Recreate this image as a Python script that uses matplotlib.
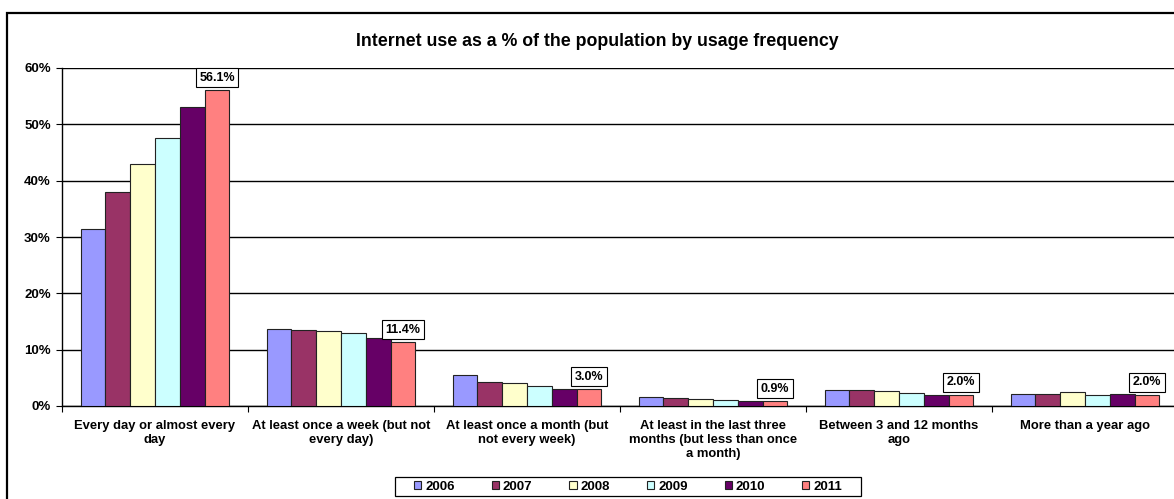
import matplotlib
matplotlib.use("Agg")
import matplotlib.pyplot as plt
import numpy as np
from matplotlib.patches import Rectangle
from matplotlib.ticker import FuncFormatter, MultipleLocator

plt.rcParams['font.family'] = ['Liberation Sans', 'DejaVu Sans']

categories = [
    "Every day or almost every\nday",
    "At least once a week (but not\nevery day)",
    "At least once a month (but\nnot every week)",
    "At least in the last three\nmonths (but less than once\na month)",
    "Between 3 and 12 months\nago",
    "More than a year ago",
]
years = ["2006", "2007", "2008", "2009", "2010", "2011"]

s2006 = [31.5, 13.6, 5.5, 1.6, 2.85, 2.1]
s2007 = [38.0, 13.5, 4.3, 1.5, 2.9, 2.2]
s2008 = [42.9, 13.3, 4.1, 1.3, 2.65, 2.45]
s2009 = [47.6, 12.9, 3.55, 1.05, 2.3, 1.95]
s2010 = [53.1, 12.0, 3.0, 0.9, 2.0, 2.1]
s2011 = [56.1, 11.4, 3.0, 0.9, 2.0, 2.0]
series = [s2006, s2007, s2008, s2009, s2010, s2011]

colors = ["#9999FF", "#993366", "#FFFFCC", "#CCFFFF", "#660066", "#FF8080"]

W, H = 1174, 499
fig = plt.figure(figsize=(W / 100, H / 100), dpi=100)

# outer chart frame
fig.patches.append(Rectangle((7 / W, -0.05), 1.2, (499 - 13) / H + 0.05,
                             transform=fig.transFigure, fill=False,
                             edgecolor="black", linewidth=1.6))

ax = fig.add_axes([62 / W, (499 - 406) / H, 1116 / W, (406 - 68) / H])
ax.set_xlim(-0.5, len(categories) - 0.5)
ax.set_ylim(0, 60)

x = np.arange(len(categories))
bw = 0.8 / len(years)
for i, (yr, vals, c) in enumerate(zip(years, series, colors)):
    ax.bar(x - 0.4 + bw * (i + 0.5), vals, width=bw, color=c,
           edgecolor="#222222", linewidth=0.8, label=yr, zorder=3)

# value labels on the latest year
for xi, v in zip(x, s2011):
    ax.annotate(f"{v:.1f}%", xy=(xi - 0.4 + bw * 5.5, v), xytext=(0, 4.5),
                textcoords="offset points", ha="center", va="bottom",
                fontsize=9, fontweight="bold", zorder=5,
                bbox=dict(boxstyle="square,pad=0.28", fc="white",
                          ec="black", lw=0.8))

ax.yaxis.set_major_locator(MultipleLocator(10))
ax.yaxis.set_major_formatter(FuncFormatter(lambda v, p: f"{v:.0f}%"))
ax.grid(axis="y", color="black", linewidth=1.0, zorder=0)
ax.set_axisbelow(True)

ax.set_xticks(np.arange(len(categories) + 1) - 0.5)
ax.set_xticklabels([])
ax.tick_params(axis="x", direction="out", length=4, width=0.8)
ax.tick_params(axis="y", direction="out", length=4, width=0.8,
               labelsize=9.5, pad=4)
for lbl in ax.get_yticklabels():
    lbl.set_fontweight("bold")
for xi, cat in zip(x, categories):
    ax.text(xi, -2.5, cat, ha="center", va="top", fontsize=9.35,
            fontweight="bold", linespacing=1.22)

for side in ("top", "right"):
    ax.spines[side].set_visible(False)
ax.spines["left"].set_linewidth(1.0)
ax.spines["bottom"].set_linewidth(1.0)

fig.text(597 / W, 1 - 41.5 / H, "Internet use as a % of the population by usage frequency",
         ha="center", va="center", fontsize=12.8, fontweight="bold")

# legend entries without their own frame; a wider box is drawn around them
leg = fig.legend(loc="center", bbox_to_anchor=(628 / W, 1 - 486.5 / H),
                 ncol=6, frameon=False, fontsize=9.5,
                 handlelength=0.55, handleheight=0.55, handletextpad=0.3,
                 columnspacing=2.8, borderpad=0.25, borderaxespad=0)
for t in leg.get_texts():
    t.set_fontweight("bold")
fig.patches.append(Rectangle((395 / W, 1 - 496 / H), (861 - 395) / W, 19 / H,
                             transform=fig.transFigure, fill=True, fc="white",
                             edgecolor="black", linewidth=0.9, zorder=0))

fig.savefig("out.png", dpi=100)
